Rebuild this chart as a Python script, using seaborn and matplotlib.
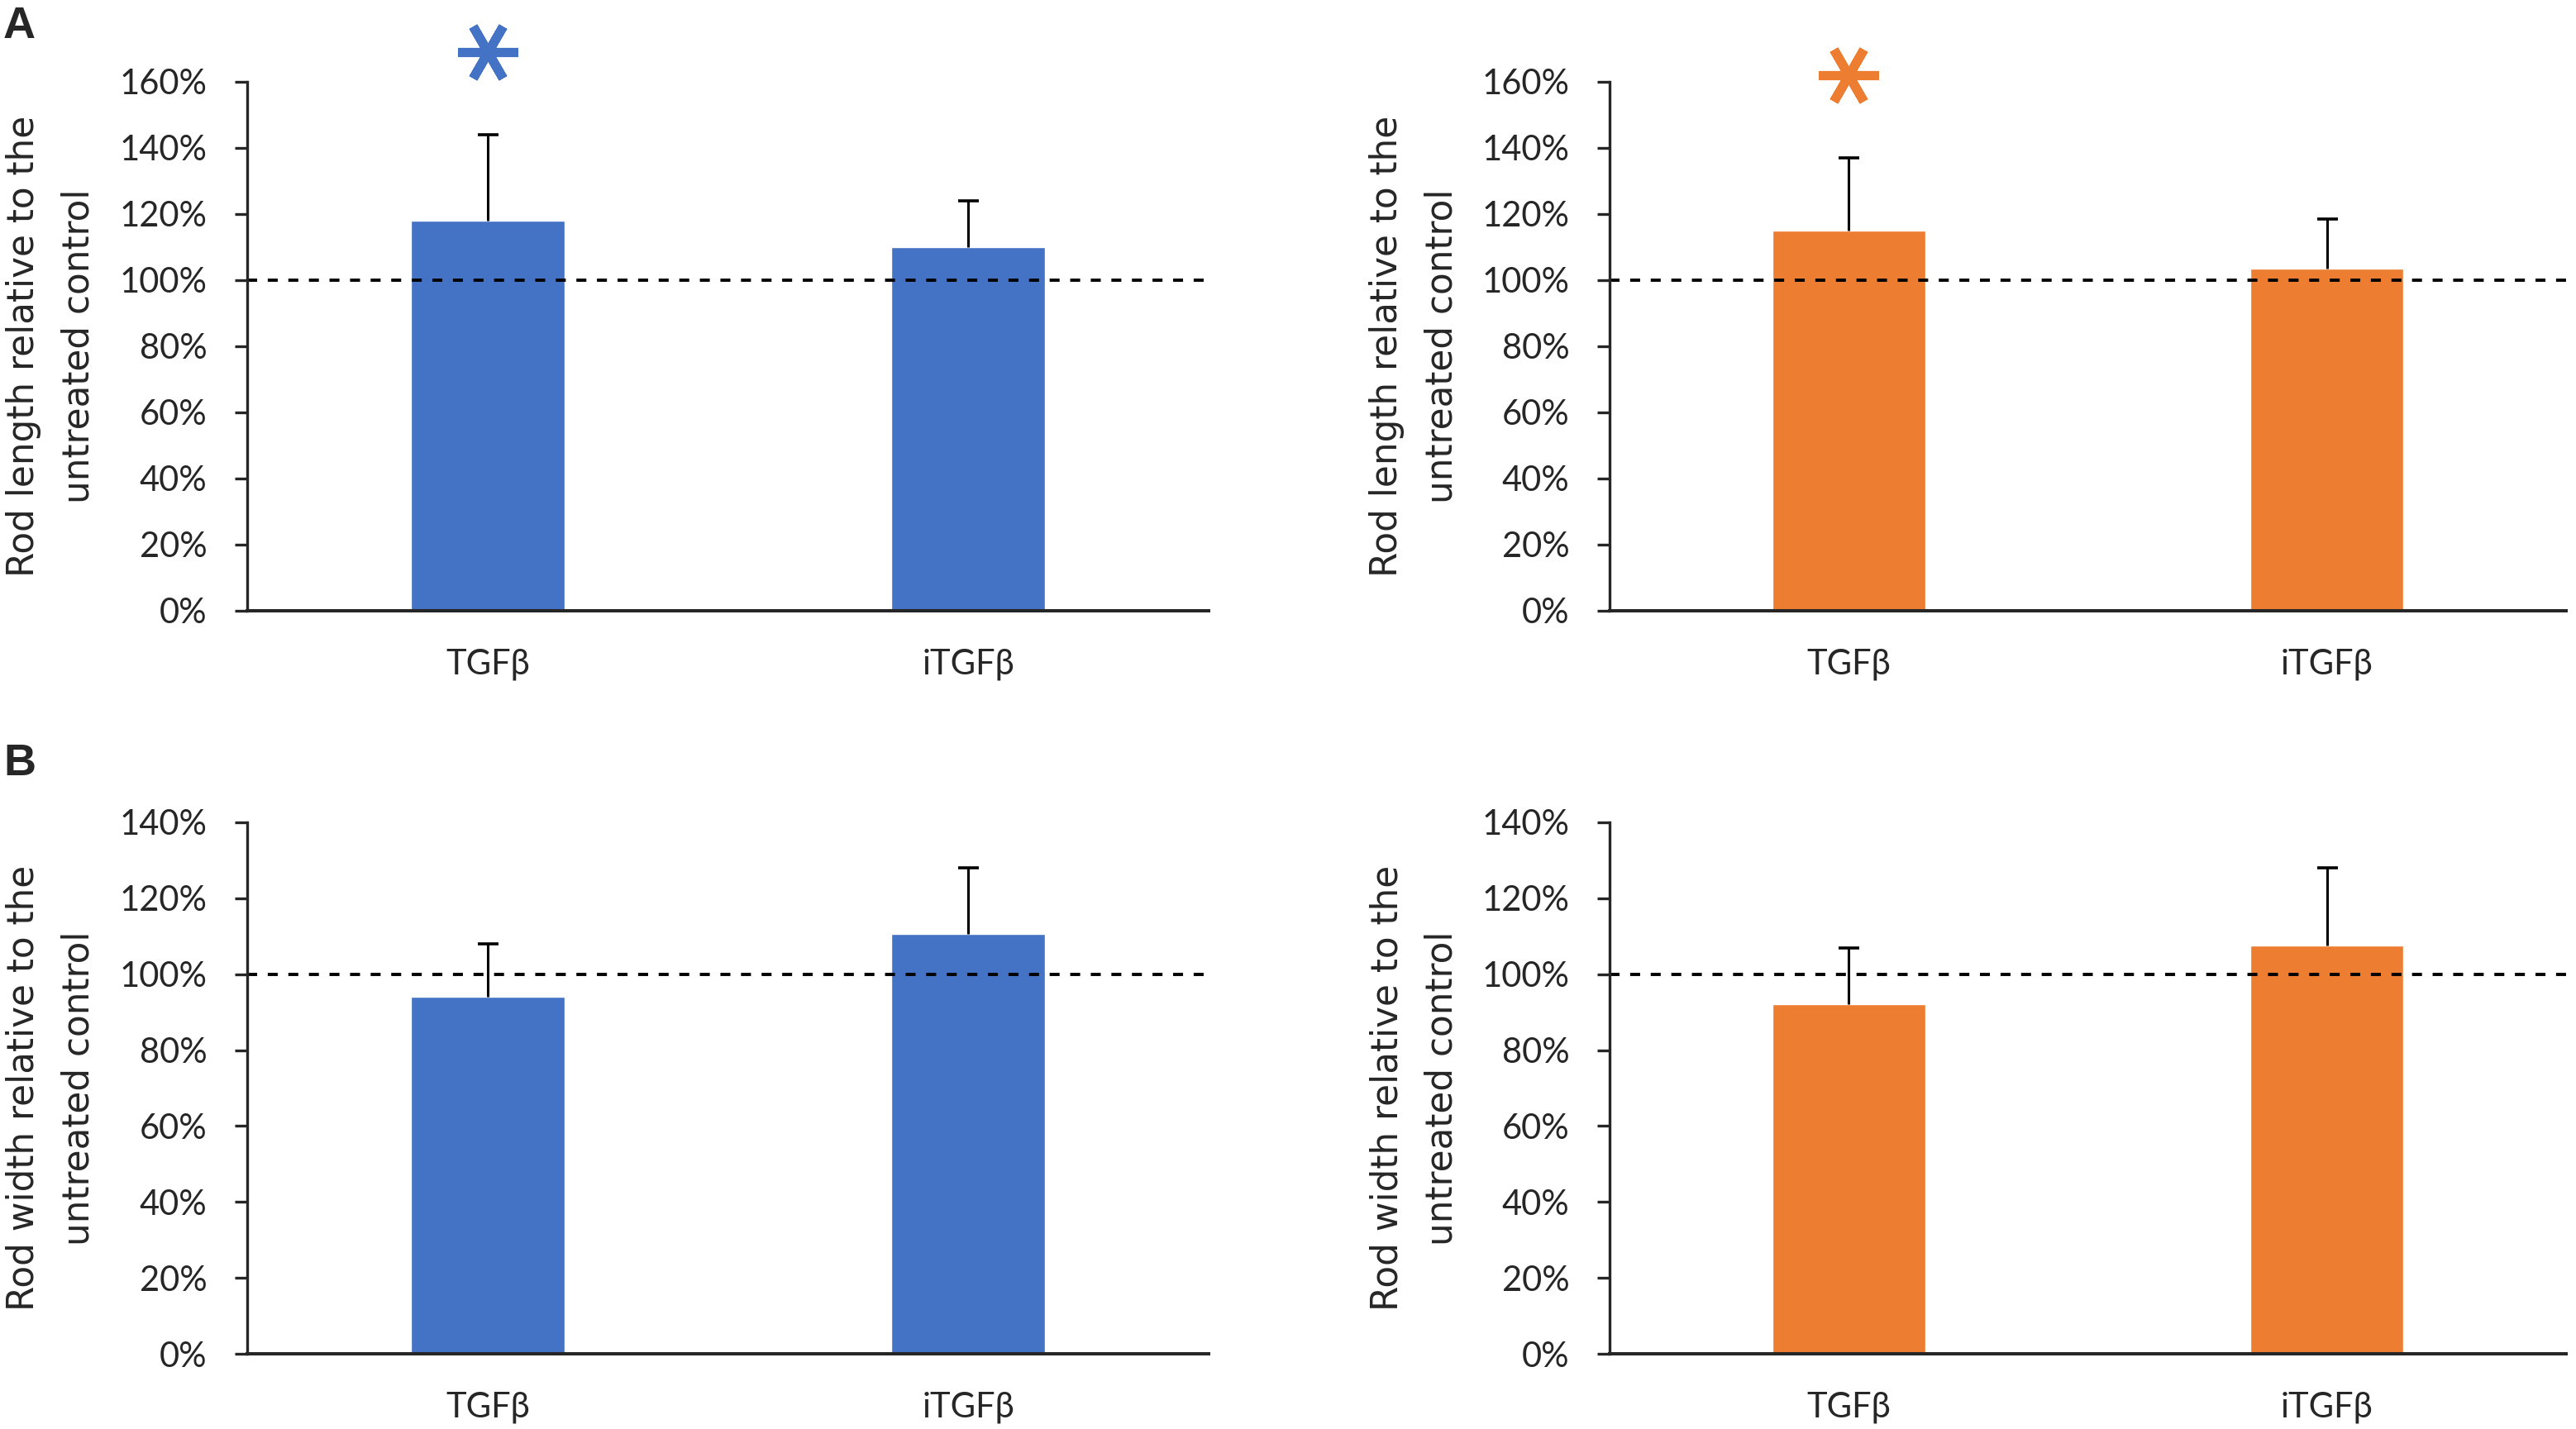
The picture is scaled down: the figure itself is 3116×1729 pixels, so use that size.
"""Rod length / width relative to the untreated control (TGFb vs iTGFb)."""

import matplotlib.pyplot as plt
import pandas as pd
import seaborn as sns
from matplotlib.ticker import MultipleLocator, PercentFormatter

sns.set_style("white")
plt.rcParams["font.family"] = ["Lato", "DejaVu Sans"]

# Data (fractions of untreated control)
treatments = ["TGFβ", "iTGFβ"]

length_blue = [1.18, 1.10]
length_blue_err = [0.26, 0.14]
length_orange = [1.15, 1.035]
length_orange_err = [0.22, 0.15]

width_blue = [0.94, 1.105]
width_blue_err = [0.14, 0.175]
width_orange = [0.92, 1.075]
width_orange_err = [0.15, 0.205]

significant_length = [True, False]
significant_width = [False, False]

length_label = "Rod length relative to the\nuntreated control"
width_label = "Rod width relative to the\nuntreated control"

BLUE = "#4472C4"
ORANGE = "#ED7D31"

W, H = 3116, 1729


def px_box(left, top, right, bottom):
    return [left / W, 1 - bottom / H, (right - left) / W, (bottom - top) / H]


def draw_panel(ax, means, errs, sig, color, ylabel, ymax):
    df = pd.DataFrame({"treatment": treatments, "value": means})
    sns.barplot(data=df, x="treatment", y="value", color=color, width=0.32,
                saturation=1, errorbar=None, ax=ax, zorder=2)
    # plus-only error bars (drop the cap sitting on the bar top)
    _, caps, _ = ax.errorbar(range(len(means)), means, yerr=[[0] * len(errs), errs],
                             fmt="none", ecolor="black", elinewidth=2.2, capsize=9,
                             capthick=2.6, zorder=3)
    caps[0].remove()
    ax.axhline(1.0, color="black", linewidth=2.8, dashes=(3.1, 3.3), zorder=4)

    for i, s in enumerate(sig):
        if s:
            ax.plot(i, means[i] + errs[i] + 0.25, marker=(6, 2, 30), markersize=52,
                    markeredgewidth=8, color=color, clip_on=False, zorder=5)

    ax.set_xlim(-0.5, 1.5)
    ax.set_ylim(0, ymax)
    ax.yaxis.set_major_locator(MultipleLocator(0.2))
    ax.yaxis.set_major_formatter(PercentFormatter(xmax=1, decimals=0))
    ax.set_xlabel("")
    ax.set_ylabel("")
    ax.text(-0.204, 0.5, ylabel, transform=ax.transAxes, rotation=90, ha="center",
            va="center", fontsize=31.5, family="DejaVu Sans", linespacing=1.7)

    sns.despine(ax=ax)
    ax.spines["left"].set_linewidth(2.4)
    ax.spines["bottom"].set_linewidth(2.9)
    ax.spines["left"].set_zorder(6)
    ax.spines["bottom"].set_zorder(6)
    ax.tick_params(axis="y", length=10.8, width=2.4, pad=24, labelsize=30, left=True)
    ax.tick_params(axis="x", length=0, pad=33, labelsize=30)


fig = plt.figure(figsize=(W / 100, H / 100), dpi=100)

ax_tl = fig.add_axes(px_box(299, 99, 1462, 739))
ax_tr = fig.add_axes(px_box(1947, 99, 3104, 739))
ax_bl = fig.add_axes(px_box(299, 995, 1462, 1638))
ax_br = fig.add_axes(px_box(1947, 995, 3104, 1638))

draw_panel(ax_tl, length_blue, length_blue_err, significant_length, BLUE, length_label, 1.6)
draw_panel(ax_tr, length_orange, length_orange_err, significant_length, ORANGE, length_label, 1.6)
draw_panel(ax_bl, width_blue, width_blue_err, significant_width, BLUE, width_label, 1.4)
draw_panel(ax_br, width_orange, width_orange_err, significant_width, ORANGE, width_label, 1.4)

fig.text(4 / W, 1 - 46 / H, "A", fontsize=39, fontweight="bold",
         family="Liberation Sans", va="baseline", ha="left")
fig.text(4 / W, 1 - 938 / H, "B", fontsize=39, fontweight="bold",
         family="Liberation Sans", va="baseline", ha="left")

fig.savefig("out.png", dpi=100)
plt.close(fig)
